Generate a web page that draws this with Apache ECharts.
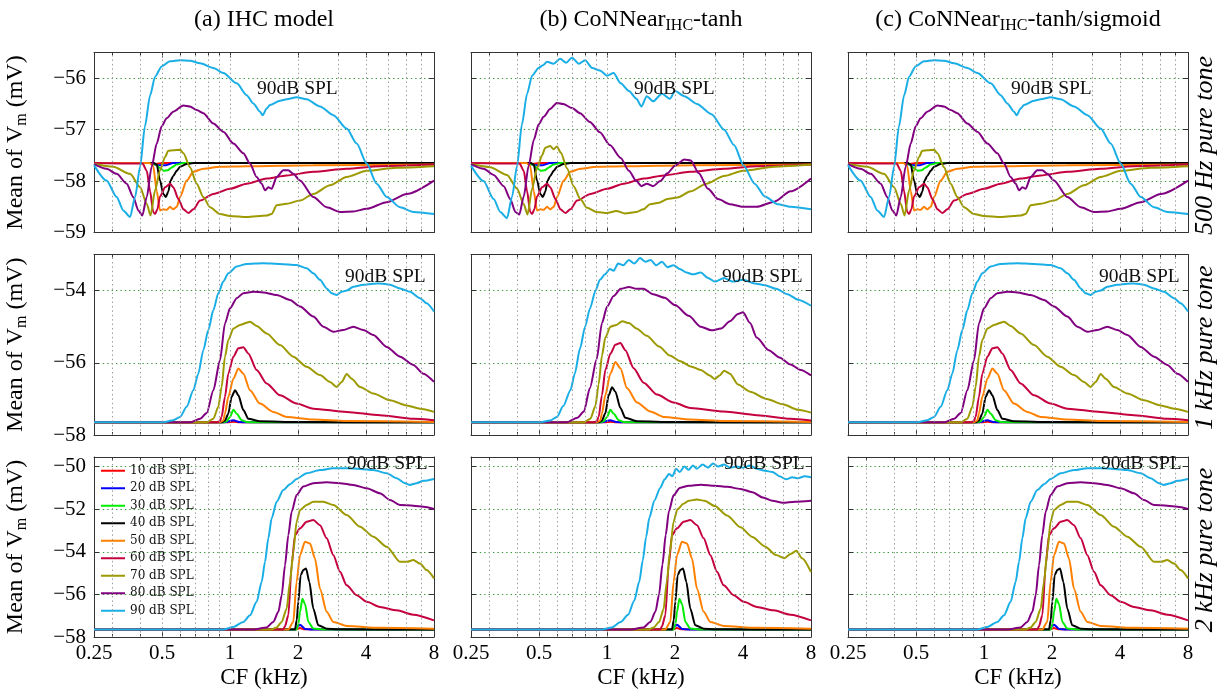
<!DOCTYPE html>
<html><head><meta charset="utf-8">
<script src="https://cdn.jsdelivr.net/npm/echarts@6/dist/echarts.min.js"></script>
<style>html,body{margin:0;padding:0;background:#fff}#c{width:1217px;height:690px}</style>
</head><body><div id="c"></div><script>
// ---------- tick labels / categories ----------
const CF_TICKS = [0.25, 0.5, 1, 2, 4, 8];
const CF_MINOR = [0.3, 0.4, 0.6, 0.7, 0.8, 0.9, 3, 5, 6, 7];
const CF_GRID = [0.3, 0.4, 0.5, 0.6, 0.7, 0.8, 0.9, 1, 2, 3, 4, 5, 6, 7];
const LEVELS = ['10 dB SPL','20 dB SPL','30 dB SPL','40 dB SPL','50 dB SPL','60 dB SPL','70 dB SPL','80 dB SPL','90 dB SPL'];
const Y_TICKS = [[-59,-58,-57,-56],[-58,-56,-54],[-58,-56,-54,-52,-50]];
const Y_LIMITS = [[-59,-55.5,1],[-58,-53,2],[-58,-49.55,2]];
const ROW_LABELS = ['500 Hz pure tone','1 kHz pure tone','2 kHz pure tone'];

// ---------- Row 1 : 500 Hz pure tone ----------
const a1_10 = [[0.25,-57.65],[0.44,-57.65],[0.47,-57.67],[0.5,-57.65],[8,-57.65]];
const a1_20 = [[0.25,-57.65],[0.44,-57.65],[0.48,-57.69],[0.52,-57.69],[0.56,-57.65],[8,-57.65]];
const a1_30 = [[0.25,-57.65],[0.45,-57.65],[0.47,-57.68],[0.49,-57.75],[0.51,-57.8],[0.53,-57.79],[0.55,-57.74],[0.58,-57.68],[0.62,-57.65],[8,-57.65]];
const a1_40 = [[0.25,-57.65],[0.46,-57.65],[0.474,-57.68],[0.49,-57.99],[0.507,-58.25],[0.52,-58.31],[0.533,-58.21],[0.546,-57.99],[0.561,-57.9],[0.581,-57.8],[0.601,-57.72],[0.643,-57.67],[0.69,-57.65],[8,-57.65]];
const a1_50 = [[0.25,-57.65],[0.44,-57.65],[0.457,-57.7],[0.474,-58.2],[0.49,-58.57],[0.507,-58.55],[0.524,-58.56],[0.543,-58.5],[0.561,-58.55],[0.581,-58.5],[0.601,-58.31],[0.643,-57.99],[0.688,-57.82],[0.762,-57.76],[0.903,-57.72],[1.185,-57.71],[2.338,-57.69],[8,-57.68]];
const a1_60 = [[0.25,-57.65],[0.41,-57.66],[0.428,-57.8],[0.443,-58.2],[0.457,-58.6],[0.466,-58.64],[0.477,-58.55],[0.49,-58.3],[0.516,-58.12],[0.543,-58.05],[0.561,-58.12],[0.591,-58.35],[0.622,-58.55],[0.654,-58.62],[0.688,-58.55],[0.737,-58.38],[0.844,-58.25],[1.0,-58.15],[1.185,-58.05],[1.453,-57.95],[1.782,-57.89],[2.338,-57.82],[3.285,-57.76],[4.61,-57.71],[8,-57.68]];
const a1_70 = [[0.25,-57.67],[0.304,-57.72],[0.361,-57.86],[0.4,-58.12],[0.428,-58.44],[0.445,-58.67],[0.466,-58.18],[0.49,-57.79],[0.516,-57.53],[0.533,-57.41],[0.561,-57.4],[0.601,-57.39],[0.622,-57.46],[0.665,-57.73],[0.712,-58.05],[0.762,-58.31],[0.816,-58.51],[0.903,-58.64],[1.0,-58.68],[1.185,-58.7],[1.453,-58.67],[1.529,-58.64],[1.609,-58.47],[1.782,-58.44],[2.041,-58.38],[2.338,-58.25],[2.772,-58.08],[3.285,-57.92],[4.03,-57.8],[5.47,-57.74],[8,-57.71]];
const a1_80 = [[0.25,-57.67],[0.284,-57.76],[0.315,-57.86],[0.349,-58.05],[0.373,-58.31],[0.393,-58.57],[0.409,-58.67],[0.428,-58.31],[0.45,-57.72],[0.474,-57.27],[0.498,-56.94],[0.524,-56.78],[0.561,-56.65],[0.622,-56.53],[0.665,-56.55],[0.712,-56.62],[0.762,-56.68],[0.844,-56.88],[0.934,-57.04],[1.035,-57.27],[1.146,-57.46],[1.226,-57.66],[1.312,-57.92],[1.381,-58.05],[1.429,-58.18],[1.478,-58.12],[1.529,-58.15],[1.609,-57.92],[1.722,-57.79],[1.812,-57.79],[1.906,-57.86],[2.041,-57.99],[2.338,-58.31],[2.679,-58.51],[3.069,-58.6],[3.516,-58.59],[4.03,-58.54],[4.94,-58.41],[6.06,-58.25],[8,-57.99]];
const a1_90 = [[0.25,-57.69],[0.284,-57.99],[0.315,-58.31],[0.337,-58.57],[0.361,-58.7],[0.38,-58.31],[0.4,-57.72],[0.42,-56.94],[0.443,-56.33],[0.466,-55.97],[0.498,-55.77],[0.543,-55.67],[0.601,-55.65],[0.665,-55.66],[0.737,-55.71],[0.844,-55.8],[0.934,-55.9],[1.071,-56.1],[1.185,-56.33],[1.268,-56.49],[1.358,-56.65],[1.395,-56.72],[1.453,-56.59],[1.503,-56.52],[1.665,-56.44],[1.782,-56.41],[1.972,-56.37],[2.184,-56.41],[2.503,-56.55],[2.868,-56.72],[3.285,-56.98],[3.638,-57.27],[4.03,-57.66],[4.46,-58.05],[4.94,-58.31],[5.66,-58.51],[6.48,-58.6],[8,-58.64]];
const b1_70 = [[0.25,-57.67],[0.304,-57.73],[0.361,-57.88],[0.4,-58.15],[0.428,-58.45],[0.445,-58.65],[0.466,-58.15],[0.49,-57.75],[0.516,-57.5],[0.533,-57.35],[0.56,-57.32],[0.58,-57.38],[0.6,-57.33],[0.625,-57.45],[0.665,-57.75],[0.712,-58.1],[0.762,-58.35],[0.816,-58.52],[0.9,-58.6],[1.0,-58.62],[1.1,-58.58],[1.2,-58.63],[1.35,-58.6],[1.45,-58.55],[1.55,-58.45],[1.7,-58.42],[1.85,-58.35],[2.05,-58.32],[2.35,-58.2],[2.75,-58.05],[3.3,-57.9],[4.0,-57.8],[5.5,-57.72],[8,-57.68]];
const b1_80 = [[0.25,-57.67],[0.284,-57.76],[0.315,-57.88],[0.349,-58.1],[0.373,-58.35],[0.393,-58.6],[0.409,-58.65],[0.428,-58.3],[0.45,-57.7],[0.474,-57.2],[0.498,-56.9],[0.524,-56.75],[0.56,-56.6],[0.6,-56.48],[0.64,-56.5],[0.7,-56.58],[0.76,-56.68],[0.84,-56.85],[0.93,-57.05],[1.03,-57.3],[1.15,-57.55],[1.25,-57.8],[1.35,-58.0],[1.42,-58.1],[1.5,-58.05],[1.6,-58.1],[1.72,-58.0],[1.85,-57.85],[2.0,-57.7],[2.2,-57.58],[2.35,-57.6],[2.55,-57.85],[2.8,-58.15],[3.1,-58.35],[3.5,-58.45],[4.0,-58.5],[4.6,-58.5],[5.5,-58.4],[6.5,-58.2],[8,-57.95]];
const b1_90 = [[0.25,-57.7],[0.284,-58.0],[0.315,-58.35],[0.337,-58.6],[0.361,-58.72],[0.38,-58.3],[0.4,-57.7],[0.42,-56.9],[0.443,-56.3],[0.466,-55.95],[0.498,-55.8],[0.52,-55.75],[0.543,-55.68],[0.58,-55.72],[0.62,-55.62],[0.66,-55.7],[0.7,-55.6],[0.75,-55.72],[0.8,-55.65],[0.86,-55.8],[0.93,-55.85],[1.0,-55.95],[1.07,-55.9],[1.15,-56.1],[1.25,-56.25],[1.35,-56.4],[1.42,-56.55],[1.5,-56.35],[1.6,-56.45],[1.75,-56.3],[1.9,-56.4],[2.0,-56.25],[2.2,-56.35],[2.5,-56.5],[2.9,-56.7],[3.3,-57.0],[3.65,-57.3],[4.03,-57.7],[4.5,-58.05],[5.0,-58.3],[5.7,-58.45],[6.5,-58.5],[8,-58.55]];

// ---------- Row 2 : 1 kHz pure tone ----------
const a2_10 = [[0.25,-57.65],[0.98,-57.65],[1.035,-57.63],[1.1,-57.65],[8,-57.65]];
const a2_20 = [[0.25,-57.65],[0.95,-57.65],[1.035,-57.59],[1.1,-57.64],[1.2,-57.65],[8,-57.65]];
const a2_30 = [[0.25,-57.65],[0.93,-57.65],[0.967,-57.62],[1.0,-57.5],[1.035,-57.3],[1.071,-57.41],[1.127,-57.59],[1.185,-57.64],[1.3,-57.65],[8,-57.65]];
const a2_40 = [[0.25,-57.65],[0.92,-57.65],[0.95,-57.6],[0.983,-57.41],[1.017,-56.94],[1.053,-56.76],[1.089,-56.9],[1.146,-57.31],[1.205,-57.55],[1.358,-57.62],[2.0,-57.64],[8,-57.65]];
const a2_50 = [[0.25,-57.65],[0.9,-57.65],[0.934,-57.6],[0.95,-57.41],[0.983,-56.94],[1.035,-56.44],[1.089,-56.16],[1.146,-56.3],[1.226,-56.76],[1.358,-57.13],[1.555,-57.36],[1.782,-57.5],[2.338,-57.57],[3.285,-57.61],[8,-57.64]];
const a2_60 = [[0.25,-57.65],[0.873,-57.65],[0.9,-57.62],[0.918,-57.5],[0.95,-56.94],[0.983,-56.3],[1.035,-55.83],[1.089,-55.6],[1.146,-55.57],[1.205,-55.74],[1.312,-56.2],[1.453,-56.57],[1.665,-56.9],[1.972,-57.13],[2.338,-57.27],[3.285,-57.36],[4.61,-57.45],[6.48,-57.55],[8,-57.59]];
const a2_70 = [[0.25,-57.65],[0.789,-57.65],[0.844,-57.55],[0.888,-57.22],[0.918,-56.67],[0.95,-55.83],[0.983,-55.37],[1.035,-55.05],[1.107,-54.95],[1.226,-54.86],[1.312,-54.98],[1.453,-55.19],[1.665,-55.51],[1.906,-55.83],[2.184,-56.11],[2.503,-56.34],[2.772,-56.53],[2.967,-56.67],[3.121,-56.53],[3.285,-56.31],[3.456,-56.44],[3.763,-56.67],[4.311,-56.85],[5.11,-57.04],[6.06,-57.18],[6.94,-57.27],[8,-57.36]];
const a2_80 = [[0.25,-57.65],[0.665,-57.65],[0.737,-57.55],[0.789,-57.39],[0.844,-56.76],[0.903,-55.93],[0.95,-54.91],[1.0,-54.49],[1.071,-54.21],[1.146,-54.07],[1.268,-54.03],[1.404,-54.05],[1.609,-54.12],[1.843,-54.26],[2.041,-54.44],[2.338,-54.72],[2.59,-55.0],[2.868,-55.14],[3.175,-55.09],[3.516,-55.0],[3.893,-55.09],[4.311,-55.23],[4.94,-55.56],[5.66,-55.83],[6.48,-56.06],[7.18,-56.3],[8,-56.53]];
const a2_90 = [[0.25,-57.65],[0.507,-57.65],[0.561,-57.59],[0.601,-57.5],[0.643,-57.22],[0.688,-56.76],[0.724,-56.3],[0.762,-55.65],[0.802,-55.09],[0.844,-54.54],[0.888,-54.07],[0.934,-53.75],[0.983,-53.52],[1.071,-53.33],[1.185,-53.26],[1.404,-53.24],[1.665,-53.26],[1.972,-53.29],[2.184,-53.38],[2.338,-53.52],[2.503,-53.7],[2.679,-53.94],[2.819,-54.07],[2.967,-54.12],[3.121,-54.03],[3.285,-54.0],[3.516,-53.89],[3.893,-53.84],[4.311,-53.81],[4.61,-53.8],[5.11,-53.84],[5.66,-53.94],[6.26,-54.03],[6.94,-54.21],[7.42,-54.35],[8,-54.58]];
const b2_40 = [[0.25,-57.65],[0.92,-57.65],[0.95,-57.6],[0.983,-57.4],[1.017,-56.9],[1.053,-56.68],[1.089,-56.8],[1.146,-57.25],[1.205,-57.52],[1.358,-57.62],[2.0,-57.64],[8,-57.65]];
const b2_50 = [[0.25,-57.65],[0.9,-57.65],[0.934,-57.6],[0.95,-57.4],[0.983,-56.9],[1.035,-56.3],[1.089,-55.98],[1.146,-56.15],[1.226,-56.7],[1.358,-57.1],[1.555,-57.35],[1.782,-57.5],[2.338,-57.57],[3.285,-57.61],[8,-57.64]];
const b2_60 = [[0.25,-57.65],[0.873,-57.65],[0.9,-57.62],[0.918,-57.5],[0.95,-56.9],[0.983,-56.2],[1.035,-55.75],[1.089,-55.5],[1.146,-55.45],[1.205,-55.65],[1.312,-56.15],[1.453,-56.55],[1.665,-56.88],[1.972,-57.1],[2.338,-57.25],[3.285,-57.35],[4.61,-57.45],[6.48,-57.55],[8,-57.6]];
const b2_70 = [[0.25,-57.65],[0.79,-57.65],[0.844,-57.55],[0.888,-57.2],[0.918,-56.6],[0.95,-55.8],[0.983,-55.3],[1.035,-55.0],[1.1,-54.95],[1.17,-54.85],[1.25,-54.9],[1.35,-55.05],[1.5,-55.25],[1.7,-55.55],[1.9,-55.8],[2.1,-55.95],[2.35,-56.1],[2.6,-56.2],[2.85,-56.35],[3.0,-56.45],[3.15,-56.35],[3.3,-56.22],[3.5,-56.3],[3.8,-56.6],[4.3,-56.8],[5.1,-57.0],[6.0,-57.15],[7.0,-57.3],[8,-57.38]];
const b2_80 = [[0.25,-57.65],[0.66,-57.65],[0.74,-57.52],[0.79,-57.35],[0.84,-56.7],[0.9,-55.9],[0.95,-54.9],[1.0,-54.45],[1.07,-54.15],[1.15,-53.95],[1.25,-53.9],[1.35,-53.95],[1.45,-53.95],[1.6,-54.1],[1.8,-54.2],[2.0,-54.4],[2.3,-54.7],[2.6,-55.0],[2.9,-55.1],[3.2,-55.05],[3.5,-54.85],[3.8,-54.65],[4.0,-54.6],[4.3,-54.9],[4.6,-55.3],[5.2,-55.65],[5.8,-55.85],[6.5,-56.05],[7.2,-56.2],[8,-56.35]];
const b2_90 = [[0.25,-57.65],[0.5,-57.65],[0.56,-57.6],[0.6,-57.5],[0.64,-57.2],[0.69,-56.75],[0.72,-56.3],[0.76,-55.6],[0.8,-55.0],[0.84,-54.5],[0.89,-54.0],[0.93,-53.7],[0.98,-53.55],[1.03,-53.4],[1.07,-53.45],[1.12,-53.25],[1.18,-53.3],[1.25,-53.15],[1.32,-53.25],[1.4,-53.1],[1.48,-53.2],[1.56,-53.15],[1.65,-53.3],[1.75,-53.2],[1.85,-53.35],[1.97,-53.3],[2.1,-53.4],[2.25,-53.5],[2.4,-53.55],[2.6,-53.5],[2.8,-53.65],[3.0,-53.75],[3.3,-53.65],[3.6,-53.75],[4.0,-53.7],[4.5,-53.8],[5.0,-53.85],[5.6,-53.95],[6.3,-54.1],[7.0,-54.25],[8,-54.42]];

// ---------- Row 3 : 2 kHz pure tone ----------
const a3_10 = [[0.25,-57.65],[1.95,-57.65],[2.04,-57.58],[2.12,-57.64],[8,-57.65]];
const a3_20 = [[0.25,-57.65],[1.95,-57.65],[2.04,-57.42],[2.15,-57.62],[2.3,-57.65],[8,-57.65]];
const a3_30 = [[0.25,-57.65],[1.97,-57.65],[2.007,-57.4],[2.041,-56.82],[2.091,-56.2],[2.148,-56.45],[2.223,-57.29],[2.338,-57.6],[2.6,-57.65],[8,-57.65]];
const a3_40 = [[0.25,-57.65],[1.94,-57.64],[1.975,-57.2],[2.007,-56.35],[2.055,-55.1],[2.111,-54.86],[2.171,-54.78],[2.245,-55.41],[2.338,-56.67],[2.46,-57.45],[2.679,-57.61],[3.0,-57.64],[8,-57.65]];
const a3_50 = [[0.25,-57.65],[1.81,-57.65],[1.906,-57.29],[1.972,-55.41],[2.041,-54.16],[2.148,-53.53],[2.26,-53.61],[2.378,-54.31],[2.503,-55.73],[2.679,-56.82],[2.868,-57.29],[3.285,-57.48],[4.61,-57.57],[8,-57.61]];
const a3_60 = [[0.25,-57.65],[1.72,-57.65],[1.752,-57.5],[1.812,-56.98],[1.875,-54.63],[1.94,-53.22],[2.041,-52.9],[2.184,-52.59],[2.338,-52.51],[2.503,-52.75],[2.679,-53.37],[2.868,-54.16],[3.069,-54.94],[3.285,-55.57],[3.638,-56.04],[4.03,-56.35],[4.61,-56.59],[5.47,-56.75],[6.48,-56.95],[8,-57.22]];
const a3_70 = [[0.25,-57.65],[1.53,-57.65],[1.609,-57.55],[1.694,-57.29],[1.782,-56.67],[1.843,-55.41],[1.906,-54.0],[1.972,-52.59],[2.041,-52.04],[2.184,-51.8],[2.338,-51.65],[2.59,-51.65],[2.868,-51.8],[3.285,-52.27],[3.763,-52.82],[4.311,-53.29],[4.94,-53.76],[5.66,-54.47],[6.06,-54.47],[6.48,-54.39],[6.94,-54.55],[7.42,-54.86],[8,-55.25]];
const a3_80 = [[0.25,-57.65],[1.27,-57.65],[1.453,-57.55],[1.555,-57.29],[1.637,-56.82],[1.694,-56.04],[1.752,-54.63],[1.812,-53.22],[1.875,-52.12],[1.972,-51.33],[2.111,-50.94],[2.338,-50.78],[2.679,-50.74],[3.069,-50.78],[3.516,-50.86],[4.03,-51.02],[4.61,-51.25],[5.11,-51.57],[5.66,-51.8],[6.48,-51.84],[7.18,-51.88],[8,-51.99]];
const a3_90 = [[0.25,-57.65],[0.934,-57.65],[1.035,-57.53],[1.146,-57.29],[1.226,-56.98],[1.312,-56.35],[1.381,-55.41],[1.429,-54.47],[1.478,-53.37],[1.529,-52.43],[1.609,-51.65],[1.722,-51.1],[1.843,-50.83],[1.972,-50.58],[2.184,-50.31],[2.503,-50.16],[2.868,-50.08],[3.285,-50.08],[3.763,-50.11],[4.311,-50.16],[4.94,-50.31],[5.47,-50.55],[5.955,-50.78],[6.26,-50.86],[6.7,-50.78],[7.18,-50.67],[8,-50.58]];
const b3_70 = [[0.25,-57.65],[1.53,-57.65],[1.61,-57.55],[1.7,-57.3],[1.78,-56.7],[1.84,-55.4],[1.9,-54.0],[1.97,-52.6],[2.05,-52.0],[2.18,-51.75],[2.3,-51.6],[2.5,-51.55],[2.7,-51.6],[3.0,-51.85],[3.4,-52.3],[3.9,-52.85],[4.4,-53.3],[5.0,-53.75],[5.6,-54.15],[6.1,-54.3],[6.5,-54.1],[6.9,-53.95],[7.3,-54.3],[8,-54.95]];
const b3_80 = [[0.25,-57.65],[1.27,-57.65],[1.45,-57.55],[1.555,-57.3],[1.64,-56.8],[1.7,-56.0],[1.76,-54.6],[1.82,-53.2],[1.88,-52.1],[1.97,-51.35],[2.1,-51.0],[2.3,-50.9],[2.6,-50.85],[3.0,-50.9],[3.4,-50.95],[3.9,-51.05],[4.4,-51.2],[4.9,-51.45],[5.4,-51.6],[6.0,-51.7],[6.8,-51.65],[8,-51.6]];
const b3_90 = [[0.25,-57.65],[0.95,-57.65],[1.05,-57.55],[1.15,-57.3],[1.24,-56.95],[1.32,-56.3],[1.39,-55.4],[1.44,-54.4],[1.49,-53.3],[1.54,-52.4],[1.62,-51.6],[1.72,-51.0],[1.8,-50.6],[1.88,-50.35],[1.95,-50.45],[2.02,-50.1],[2.1,-50.25],[2.2,-50.0],[2.3,-50.15],[2.4,-49.95],[2.5,-50.1],[2.65,-49.9],[2.8,-50.05],[2.95,-49.85],[3.1,-50.0],[3.3,-49.9],[3.5,-50.05],[3.75,-50.0],[4.0,-50.05],[4.3,-49.95],[4.6,-50.1],[5.0,-50.2],[5.4,-50.25],[5.8,-50.45],[6.2,-50.6],[6.6,-50.5],[7.0,-50.55],[7.5,-50.45],[8,-50.5]];

// panels [row][col] -> list of 9 series (10..90 dB)
const PANELS = [
  [[a1_10,a1_20,a1_30,a1_40,a1_50,a1_60,a1_70,a1_80,a1_90],
   [a1_10,a1_20,a1_30,a1_40,a1_50,a1_60,b1_70,b1_80,b1_90],
   [a1_10,a1_20,a1_30,a1_40,a1_50,a1_60,a1_70,a1_80,a1_90]],
  [[a2_10,a2_20,a2_30,a2_40,a2_50,a2_60,a2_70,a2_80,a2_90],
   [a2_10,a2_20,a2_30,b2_40,b2_50,b2_60,b2_70,b2_80,b2_90],
   [a2_10,a2_20,a2_30,a2_40,a2_50,a2_60,a2_70,a2_80,a2_90]],
  [[a3_10,a3_20,a3_30,a3_40,a3_50,a3_60,a3_70,a3_80,a3_90],
   [a3_10,a3_20,a3_30,a3_40,a3_50,a3_60,b3_70,b3_80,b3_90],
   [a3_10,a3_20,a3_30,a3_40,a3_50,a3_60,a3_70,a3_80,a3_90]]
];

// ---------- layout & style ----------
const COLORS = ['#ff0000','#0000ff','#00ee00','#000000','#ff8000','#c4003f','#9c9a00','#800080','#1aaee6'];
const SERIF = "'Liberation Serif','Times New Roman',serif";
const COL_LEFT = [94, 471, 848], COL_W = 340;
const ROW_TOP = [52.5, 254.5, 457], ROW_H = [180, 180.5, 180];
const AXIS_C = '#333';

const chart = echarts.init(document.getElementById('c'), null, {renderer: 'canvas'});
const option = {animation: false, grid: [], xAxis: [], yAxis: [], series: [], graphic: [],
  legend: {data: LEVELS, left: 101, top: 464.5, orient: 'vertical', icon: 'rect', itemWidth: 24, itemHeight: 2,
    itemGap: 5, padding: 0, selectedMode: false,
    textStyle: {fontFamily: "'DejaVu Serif',serif", fontSize: 12, lineHeight: 12.5, color: '#111'}}
};

for (let r = 0; r < 3; r++) for (let c = 0; c < 3; c++) {
  const gi = r * 3 + c, xb = gi * 4, yb = gi * 2;
  option.grid.push({left: COL_LEFT[c], top: ROW_TOP[r], width: COL_W, height: ROW_H[r]});
  const xbase = {type: 'log', logBase: 2, min: CF_TICKS[0], max: CF_TICKS[CF_TICKS.length - 1], gridIndex: gi, splitLine: {show: false}};
  const lineOn = {show: true, onZero: false, lineStyle: {color: AXIS_C, width: 1}};
  const majT = {show: true, inside: true, length: 5, customValues: CF_TICKS, lineStyle: {color: AXIS_C}};
  const minT = {show: true, inside: true, length: 3, customValues: CF_MINOR, lineStyle: {color: AXIS_C}};
  option.xAxis.push(Object.assign({}, xbase, {position: 'bottom', axisLine: lineOn, axisTick: majT,
    axisLabel: {show: r === 2, customValues: CF_TICKS, formatter: v => String(v), fontFamily: SERIF, fontSize: 21, color: '#000', margin: 6}}));
  option.xAxis.push(Object.assign({}, xbase, {position: 'top', axisLine: lineOn, axisTick: majT, axisLabel: {show: false}}));
  option.xAxis.push(Object.assign({}, xbase, {position: 'bottom', axisLine: {show: false}, axisTick: minT, axisLabel: {show: false}}));
  option.xAxis.push(Object.assign({}, xbase, {position: 'top', axisLine: {show: false}, axisTick: minT, axisLabel: {show: false}}));
  const [ymin, ymax, yint] = Y_LIMITS[r];
  const ybase = {type: 'value', gridIndex: gi, min: ymin, max: ymax, interval: yint};
  option.yAxis.push(Object.assign({}, ybase, {position: 'left', axisLine: lineOn,
    axisTick: {show: true, inside: true, length: 5, lineStyle: {color: AXIS_C}},
    axisLabel: {show: c === 0, fontFamily: SERIF, fontSize: 21, color: '#000', margin: 8,
      formatter: v => Y_TICKS[r].indexOf(v) >= 0 ? '\u2212' + Math.abs(v) : ''},
    splitLine: {show: true, lineStyle: {color: '#3c9a3c', width: 1, type: [1.4, 3]}}}));
  option.yAxis.push(Object.assign({}, ybase, {position: 'right', axisLine: lineOn,
    axisTick: {show: true, inside: true, length: 5, lineStyle: {color: AXIS_C}},
    axisLabel: {show: false}, splitLine: {show: false}}));
  // vertical grid lines (dotted)
  option.series.push({type: 'line', xAxisIndex: xb, yAxisIndex: yb, data: [], silent: true, z: 1,
    markLine: {silent: true, symbol: ['none', 'none'], label: {show: false}, animation: false,
      lineStyle: {type: [1.4, 3], color: '#9a9a9a', width: 1},
      data: CF_GRID.map(v => ({xAxis: v}))}});
  PANELS[r][c].forEach((d, k) => {
    option.series.push({type: 'line', name: LEVELS[k], xAxisIndex: xb, yAxisIndex: yb, data: d,
      showSymbol: false, symbol: 'none', smooth: 0.25, smoothMonotone: 'x', z: 3,
      lineStyle: {width: 2, color: COLORS[k]}, itemStyle: {color: COLORS[k]}});
  });
  // "90dB SPL" annotation
  const annX = [257, 345, 347][r] + COL_LEFT[c] - COL_LEFT[0];
  const annY = [89, 277, 464][r];
  option.graphic.push({type: 'text', x: annX, y: annY, z: 100,
    style: {text: '90dB SPL', fontFamily: SERIF, fontSize: 19.5, fill: '#111', align: 'left', verticalAlign: 'middle'}});
}

// column titles
const TITLE_RICH = {n: {fontFamily: SERIF, fontSize: 24, lineHeight: 28, fill: '#000'},
                    s: {fontFamily: SERIF, fontSize: 16, lineHeight: 16, verticalAlign: 'bottom', fill: '#000'}};
const TITLES = ['{n|(a) IHC model}', '{n|(b) CoNNear}{s|IHC}{n|-tanh}', '{n|(c) CoNNear}{s|IHC}{n|-tanh/sigmoid}'];
TITLES.forEach((t, c) => option.graphic.push({type: 'text', x: COL_LEFT[c] + COL_W / 2, y: 20, z: 100,
  style: {text: t, rich: TITLE_RICH, align: 'center', verticalAlign: 'middle'}}));

// y axis names, right row labels, x axis names
const YNAME_RICH = {n: {fontFamily: SERIF, fontSize: 24, lineHeight: 28, fill: '#000'},
                    s: {fontFamily: SERIF, fontSize: 16, lineHeight: 16, verticalAlign: 'bottom', fill: '#000'}};
for (let r = 0; r < 3; r++) {
  const cy = ROW_TOP[r] + ROW_H[r] / 2;
  option.graphic.push({type: 'text', x: 16, y: cy, rotation: Math.PI / 2, z: 100,
    style: {text: '{n|Mean of V}{s|m}{n| (mV)}', rich: YNAME_RICH, align: 'center', verticalAlign: 'middle'}});
  option.graphic.push({type: 'text', x: 1205, y: cy + 3, rotation: Math.PI / 2, z: 100,
    style: {text: ROW_LABELS[r], fontFamily: SERIF, fontStyle: 'italic', fontSize: 26, fill: '#000', align: 'center', verticalAlign: 'middle'}});
}
for (let c = 0; c < 3; c++) {
  option.graphic.push({type: 'text', x: COL_LEFT[c] + COL_W / 2, y: 678, z: 100,
    style: {text: 'CF (kHz)', fontFamily: SERIF, fontSize: 23, fill: '#000', align: 'center', verticalAlign: 'middle'}});
}

chart.setOption(option);
</script></body></html>
